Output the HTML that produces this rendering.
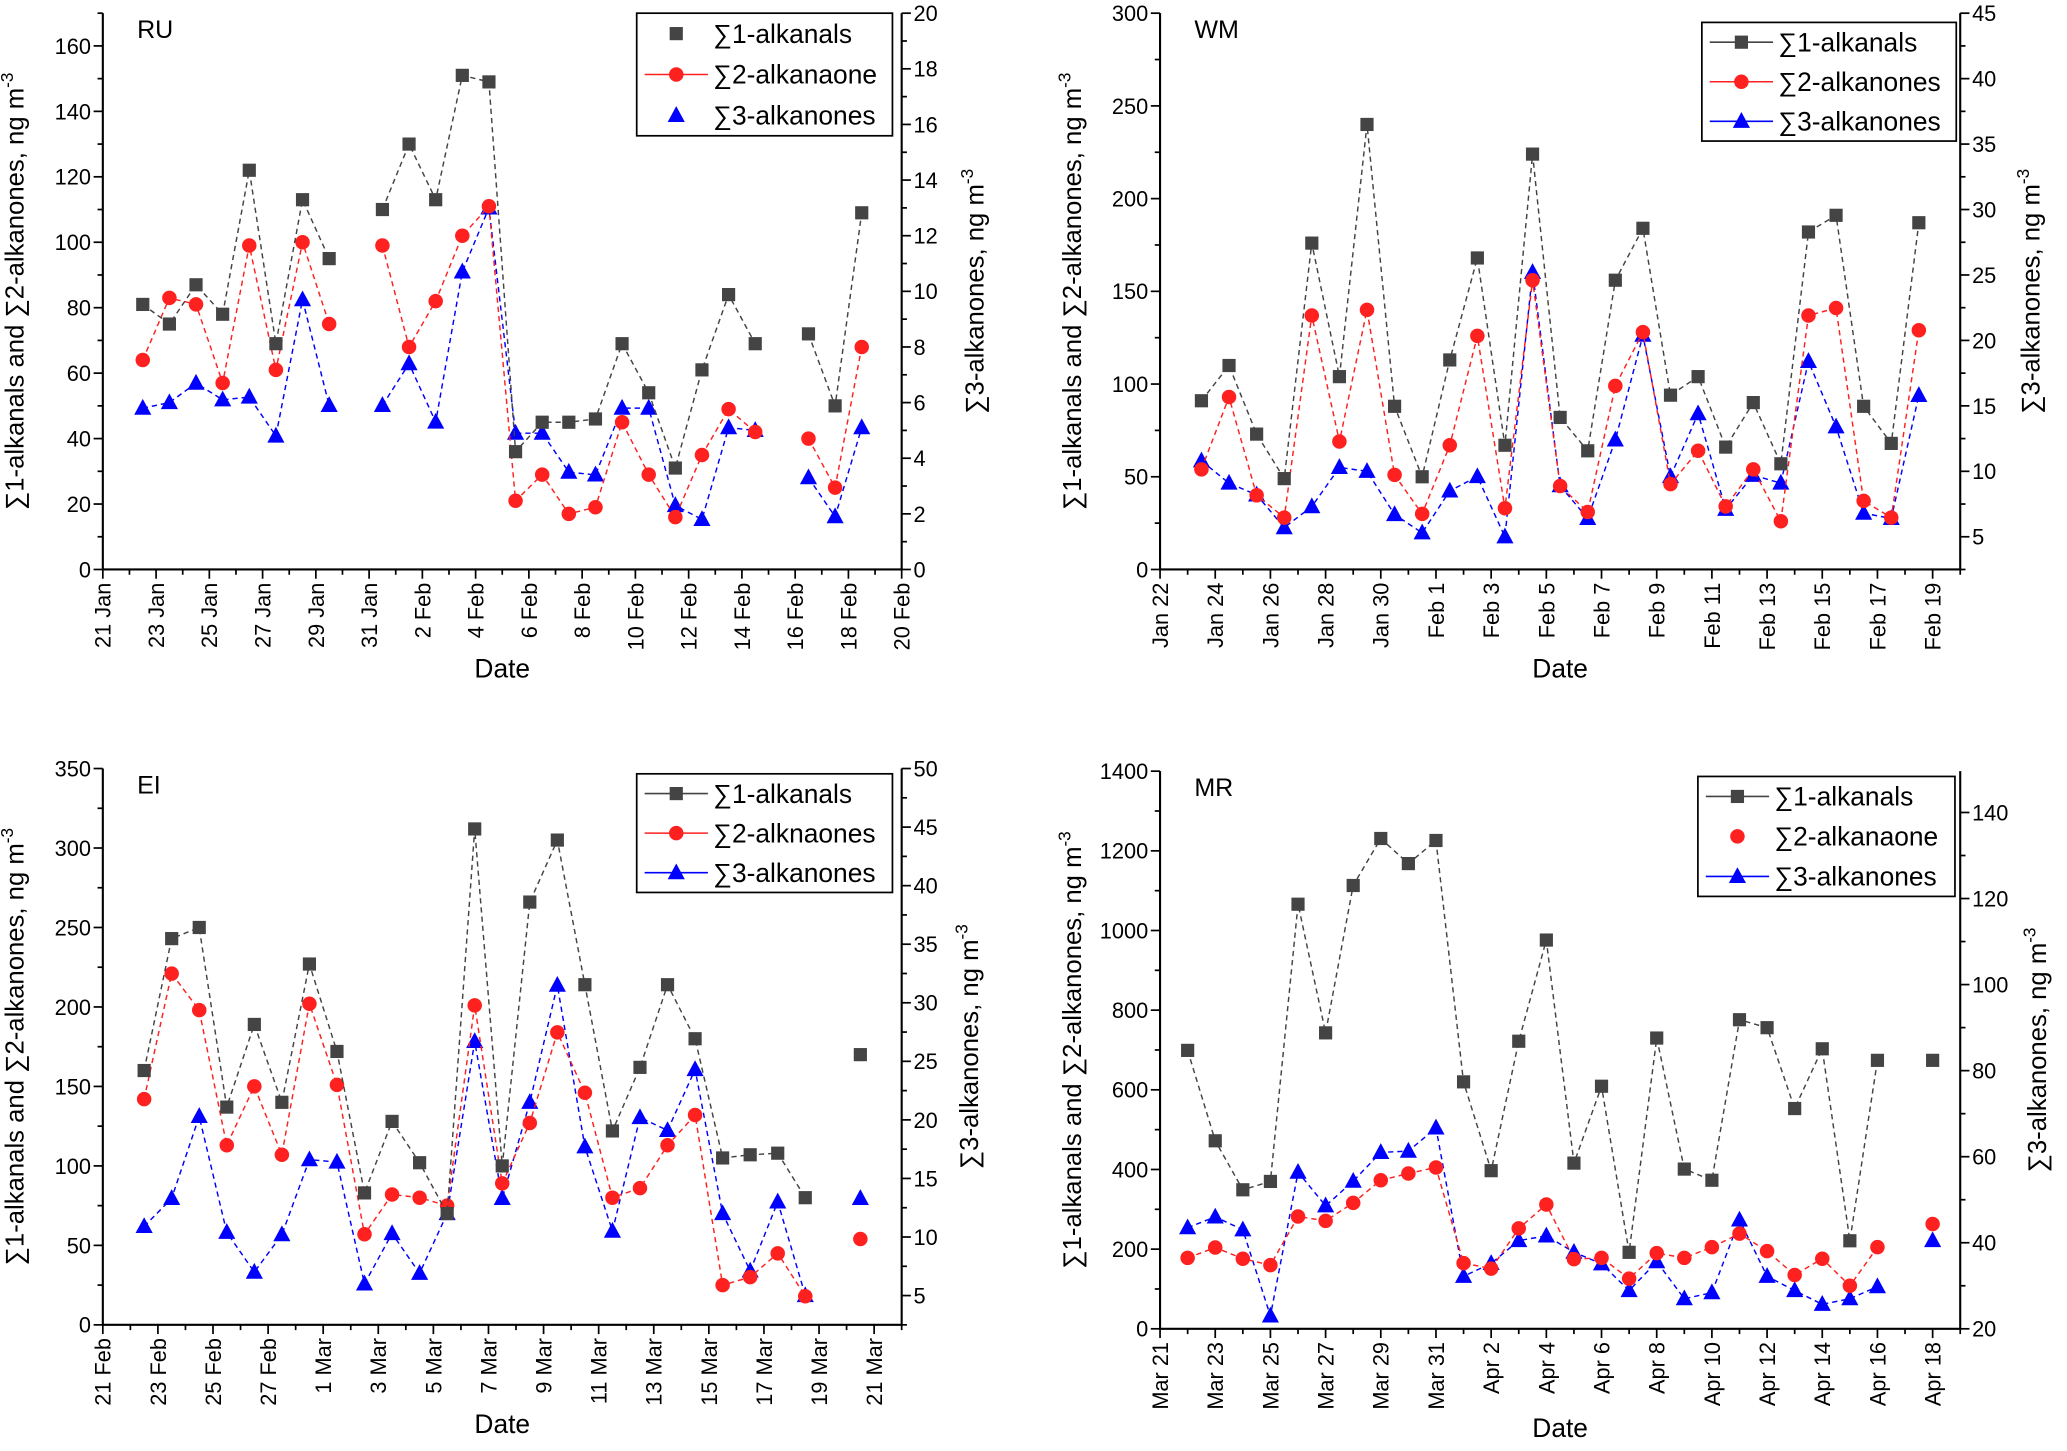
<!DOCTYPE html>
<html><head><meta charset="utf-8"><title>Carbonyls time series</title>
<style>
html,body{margin:0;padding:0;background:#fff;}
svg{display:block;font-family:"Liberation Sans",Arial,sans-serif;}
</style></head>
<body>
<svg id="fig" width="2067" height="1451" viewBox="0 0 1568 1100.7" preserveAspectRatio="none" xmlns="http://www.w3.org/2000/svg"></svg>
<script>
// ===== RU data =====
const ruDays = [1.5,2.5,3.5,4.5,5.5,6.5,7.5,8.5,9.5,10.5,11.5,12.5,13.5,14.5,15.5,16.5,17.5,18.5,19.5,20.5,21.5,22.5,23.5,24.5,25.5,26.5,27.5,28.5];
const ruAlkanals = [81,75,87,78,122,69,113,95,null,110,130,113,151,149,36,45,45,46,69,54,31,61,84,69,null,72,50,109];
const ruAlkanones2 = [64,83,81,57,99,61,100,75,null,99,68,82,102,111,21,29,17,19,45,29,16,35,49,42,null,40,25,68];
const ruAlkanones3 = [5.8,6.0,6.7,6.1,6.2,4.8,9.7,5.9,null,5.9,7.4,5.3,10.7,13.0,4.9,4.9,3.5,3.4,5.8,5.8,2.3,1.8,5.1,5.0,null,3.3,1.9,5.1];
const ruXLabels = ["21 Jan","23 Jan","25 Jan","27 Jan","29 Jan","31 Jan","2 Feb","4 Feb","6 Feb","8 Feb","10 Feb","12 Feb","14 Feb","16 Feb","18 Feb","20 Feb"];
const ruLeftTicks = [0,20,40,60,80,100,120,140,160];
const ruRightTicks = [0,2,4,6,8,10,12,14,16,18,20];
// ===== WM data =====
const wmDays = [1.5,2.5,3.5,4.5,5.5,6.5,7.5,8.5,9.5,10.5,11.5,12.5,13.5,14.5,15.5,16.5,17.5,18.5,19.5,20.5,21.5,22.5,23.5,24.5,25.5,26.5,27.5];
const wmAlkanals = [91,110,73,49,176,104,240,88,50,113,168,67,224,82,64,156,184,94,104,66,90,57,182,191,88,68,187];
const wmAlkanones2 = [54,93,40,28,137,69,140,51,30,67,126,33,156,45,31,99,128,46,64,34,54,26,137,141,37,28,129];
const wmAlkanones3 = [10.8,9.1,8.2,5.7,7.3,10.3,10.0,6.7,5.3,8.5,9.6,5.0,25.2,8.9,6.4,12.4,20.4,9.6,14.4,7.1,9.7,9.1,18.4,13.4,6.8,6.4,15.8];
const wmXLabels = ["Jan 22","Jan 24","Jan 26","Jan 28","Jan 30","Feb 1","Feb 3","Feb 5","Feb 7","Feb 9","Feb 11","Feb 13","Feb 15","Feb 17","Feb 19"];
const wmLeftTicks = [0,50,100,150,200,250,300];
const wmRightTicks = [5,10,15,20,25,30,35,40,45];
// ===== EI data =====
const eiDays = [1.5,2.5,3.5,4.5,5.5,6.5,7.5,8.5,9.5,10.5,11.5,12.5,13.5,14.5,15.5,16.5,17.5,18.5,19.5,20.5,21.5,22.5,23.5,24.5,25.5,26.5,27.5];
const eiAlkanals = [160,243,250,137,189,140,227,172,83,128,102,70,312,100,266,305,214,122,162,214,180,105,107,108,80,null,170];
const eiAlkanones2 = [142,221,198,113,150,107,202,151,57,82,80,75,201,89,127,184,146,80,86,113,132,25,30,45,18,null,54];
const eiAlkanones3 = [10.9,13.3,20.3,10.4,7.0,10.2,16.6,16.4,6.0,10.3,6.9,12.0,26.7,13.3,21.5,31.5,17.7,10.5,20.2,19.1,24.3,12.0,7.1,13.0,5.0,null,13.3];
const eiXLabels = ["21 Feb","23 Feb","25 Feb","27 Feb","1 Mar","3 Mar","5 Mar","7 Mar","9 Mar","11 Mar","13 Mar","15 Mar","17 Mar","19 Mar","21 Mar"];
const eiLeftTicks = [0,50,100,150,200,250,300,350];
const eiRightTicks = [5,10,15,20,25,30,35,40,45,50];
// ===== MR data =====
const mrDays = [1,2,3,4,5,6,7,8,9,10,11,12,13,14,15,16,17,18,19,20,21,22,23,24,25,26,27,28];
const mrAlkanals = [699,472,349,370,1066,743,1113,1231,1168,1226,620,397,722,976,416,609,192,730,401,373,776,756,553,703,221,674,null,674];
const mrAlkanones2 = [178,204,176,160,282,271,316,373,390,405,165,151,252,312,175,178,126,190,178,205,239,195,135,176,108,205,null,263];
const mrAlkanones3 = [43.5,46.0,43.0,23.0,56.4,48.6,54.3,61.0,61.3,66.7,32.2,35.2,40.5,41.6,37.8,35.1,28.9,35.6,27.0,28.4,45.3,32.2,28.9,25.7,27.0,29.8,null,40.5];
const mrXLabels = ["Mar 21","Mar 23","Mar 25","Mar 27","Mar 29","Mar 31","Apr 2","Apr 4","Apr 6","Apr 8","Apr 10","Apr 12","Apr 14","Apr 16","Apr 18"];
const mrLeftTicks = [0,200,400,600,800,1000,1200,1400];
const mrRightTicks = [20,40,60,80,100,120,140];

const NS = "http://www.w3.org/2000/svg";
const svg = document.getElementById('fig');
function mk(tag, attrs, parent){ const e=document.createElementNS(NS,tag); for(const k in attrs) e.setAttribute(k,attrs[k]); (parent||svg).appendChild(e); return e; }

function panel(o){
  const g = mk('g',{});
  
  
  const {L,R,T,B} = o;
  const sx = d => L + d/o.xMax*(R-L);
  const syL = v => B - (v-o.lMin)/(o.lMax-o.lMin)*(B-T);
  const syR = v => B - (v-o.rMin)/(o.rMax-o.rMin)*(B-T);
  // axis lines
  const ax = mk('path',{d:`M${L},${T} V${B} H${R} V${T}`,fill:'none',stroke:'#000','stroke-width':1.6},g);
  
  
  // x ticks
  for(let d=0; d<=o.xMax; d++){
    const x=sx(d), major = d%2===0;
    mk('line',{x1:x,y1:B,x2:x,y2:B+(major?7:4),stroke:'#000','stroke-width':1.3},g);
  }
  o.xLabels.forEach((lab,i)=>{
    const x=sx(i*2);
    const t=mk('text',{x:0,y:0,'font-size':16.5,'text-anchor':'end',transform:`translate(${x+6},${B+10}) rotate(-90)`},g);
    t.textContent=lab;
    
    
  });
  // left ticks
  const lStep = o.lTicks[1]-o.lTicks[0];
  for(let v=o.lMin; v<=o.lMax+1e-6; v+=lStep/2){
    const y=syL(v), major=Math.abs((v/lStep)-Math.round(v/lStep))<1e-6;
    mk('line',{x1:L,y1:y,x2:L-(major?7:4),y2:y,stroke:'#000','stroke-width':1.3},g);
  }
  o.lTicks.forEach(v=>{
    const t=mk('text',{x:L-9,y:syL(v)+6,'font-size':16.5,'text-anchor':'end'},g);
    t.textContent=v;
    
    
  });
  const rStep = o.rTicks[1]-o.rTicks[0];
  for(let v=o.rTicks[0]-rStep/2; v<=o.rMax+1e-6; v+=rStep/2){
    if(v<o.rMin-1e-6) continue;
    const y=syR(v), major=Math.abs(((v-o.rTicks[0])/rStep)-Math.round((v-o.rTicks[0])/rStep))<1e-6;
    mk('line',{x1:R,y1:y,x2:R+(major?7:4),y2:y,stroke:'#000','stroke-width':1.3},g);
  }
  o.rTicks.forEach(v=>{
    const t=mk('text',{x:R+9,y:syR(v)+6,'font-size':16.5,'text-anchor':'start'},g);
    t.textContent=v;
    
    
  });
  // axis titles
  const lt=mk('text',{x:0,y:0,'font-size':19.5,'text-anchor':'middle',transform:`translate(${L-o.lTitleOff},${(T+B)/2}) rotate(-90)`},g);
  lt.innerHTML='∑1-alkanals and ∑2-alkanones, ng m<tspan dy="-8" font-size="13">-3</tspan>';
  
  
  const rt=mk('text',{x:0,y:0,'font-size':19.5,'text-anchor':'middle',transform:`translate(${R+o.rTitleOff},${(T+B)/2}) rotate(-90)`},g);
  rt.innerHTML='∑3-alkanones, ng m<tspan dy="-8" font-size="13">-3</tspan>';
  
  
  const xt=mk('text',{x:(L+R)/2,y:B+82,'font-size':20,'text-anchor':'middle'},g);
  xt.textContent='Date';
  
  
  const pt=mk('text',{x:L+26,y:T+19,'font-size':19},g);
  pt.textContent=o.id;
  
  
  // series
  function series(days, vals, sy, color, shape, name){
    let d='', pen=false;
    days.forEach((dd,i)=>{
      const v=vals[i];
      if(v===null||v===undefined){pen=false;return;}
      d += (pen?'L':'M')+sx(dd).toFixed(1)+','+sy(v).toFixed(1)+' ';
      pen=true;
    });
    const p=mk('path',{d:d,fill:'none',stroke:color,'stroke-width':1.1,'stroke-dasharray':'4,3'},g);
    
    
    days.forEach((dd,i)=>{
      const v=vals[i];
      if(v===null||v===undefined) return;
      const m=marker(sx(dd),sy(v),color,shape,g);
      
      
    });
  }
  series(o.days,o.s3,syR,'#0000ff','tri','alkanones3');
  series(o.days,o.s2,syL,'#ff2020','circ','alkanones2');
  series(o.days,o.s1,syL,'#444','sq','alkanals');
  // legend
  const lg=mk('g',{},g);
  
  
  const [lx,ly,lw,lh]=o.legend;
  mk('rect',{x:lx,y:ly,width:lw,height:lh,fill:'#fff',stroke:'#000','stroke-width':1.3},lg);
  const entries=[['∑1-alkanals','#444','sq'],[o.name2,'#ff2020','circ'],['∑3-alkanones','#0000ff','tri']];
  entries.forEach((e,i)=>{
    const cy=ly+lh*(i+0.5)/3;
    if(o.legLines[i]) mk('line',{x1:lx+6,y1:cy,x2:lx+54,y2:cy,stroke:e[1],'stroke-width':1.2},lg);
    marker(lx+30,cy,e[1],e[2],lg);
    const t=mk('text',{x:lx+58,y:cy+7,'font-size':20},lg);
    t.textContent=e[0];
    
    
  });
}
function marker(x,y,c,shape,parent){
  if(shape==='sq') return mk('rect',{x:x-5,y:y-5,width:10,height:10,fill:c},parent);
  if(shape==='circ') return mk('circle',{cx:x,cy:y,r:5.5,fill:c},parent);
  return mk('path',{d:`M${x},${y-7} L${x+6.5},${y+5} L${x-6.5},${y+5} Z`,fill:c},parent);
}

panel({id:'RU',L:78,R:684,T:10,B:432,xMax:30,lMin:0,lMax:170,rMin:0,rMax:20,
  days:ruDays,s1:ruAlkanals,s2:ruAlkanones2,s3:ruAlkanones3,xLabels:ruXLabels,lTicks:ruLeftTicks,rTicks:ruRightTicks,
  lTitleOff:60,rTitleOff:62,legend:[483,10,194,93],name2:'∑2-alkanaone',legLines:[false,true,false]});
panel({id:'WM',L:880,R:1487,T:10,B:432,xMax:29,lMin:0,lMax:300,rMin:2.5,rMax:45,
  days:wmDays,s1:wmAlkanals,s2:wmAlkanones2,s3:wmAlkanones3,xLabels:wmXLabels,lTicks:wmLeftTicks,rTicks:wmRightTicks,
  lTitleOff:60,rTitleOff:60,legend:[1291,17,193,90],name2:'∑2-alkanones',legLines:[true,true,true]});
panel({id:'EI',L:78,R:684,T:583,B:1005,xMax:29,lMin:0,lMax:350,rMin:2.5,rMax:50,
  days:eiDays,s1:eiAlkanals,s2:eiAlkanones2,s3:eiAlkanones3,xLabels:eiXLabels,lTicks:eiLeftTicks,rTicks:eiRightTicks,
  lTitleOff:60,rTitleOff:58,legend:[483,587,194,90],name2:'∑2-alknaones',legLines:[true,true,true]});
panel({id:'MR',L:880,R:1487,T:585,B:1008,xMax:29,lMin:0,lMax:1400,rMin:20,rMax:149.6,
  days:mrDays,s1:mrAlkanals,s2:mrAlkanones2,s3:mrAlkanones3,xLabels:mrXLabels,lTicks:mrLeftTicks,rTicks:mrRightTicks,
  lTitleOff:60,rTitleOff:65,legend:[1288,589,195,91],name2:'∑2-alkanaone',legLines:[true,false,true]});
</script>
</body></html>
